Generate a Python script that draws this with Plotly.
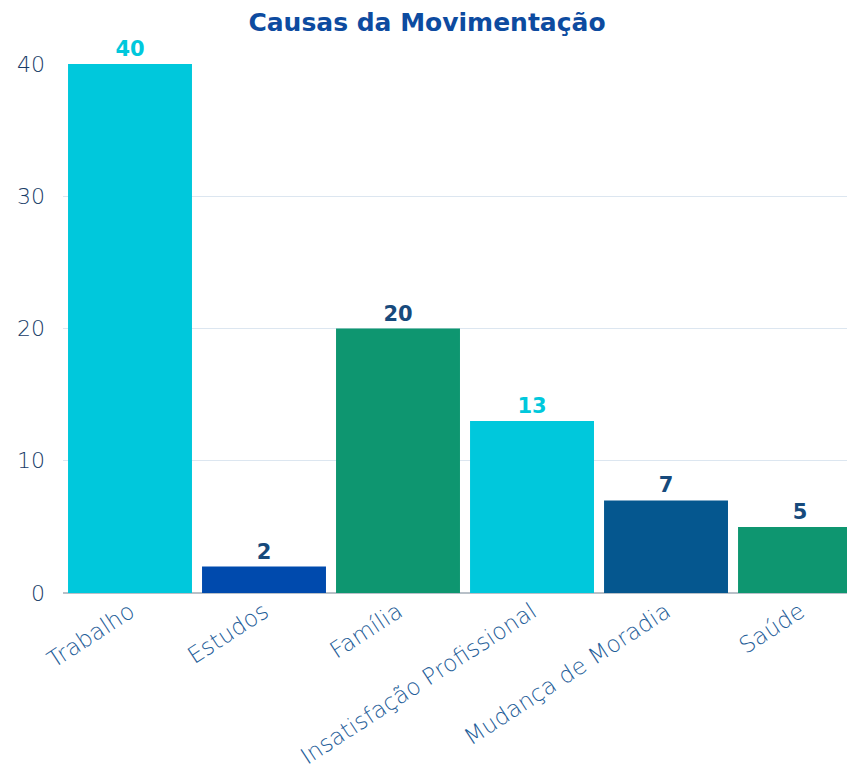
import plotly.graph_objects as go

categories = ["Trabalho", "Estudos", "Família", "Insatisfação Profissional", "Mudança de Moradia", "Saúde"]
values = [40, 2, 20, 13, 7, 5]
bar_colors = ["#00C8DC", "#004AAD", "#0E9670", "#00C8DC", "#05578F", "#0E9670"]
label_colors = ["#00C8DC", "#174A7C", "#174A7C", "#00C8DC", "#174A7C", "#174A7C"]
y_ticks = [0, 10, 20, 30, 40]

fig = go.Figure(go.Bar(
    x=categories,
    y=values,
    marker=dict(color=bar_colors, line=dict(width=0)),
    text=[str(v) for v in values],
    textposition="outside",
    textfont=dict(family="DejaVu Sans", size=21, color=label_colors, weight="bold"),
    cliponaxis=False,
))

fig.update_layout(
    width=855,
    height=771,
    margin=dict(l=55, r=0, t=56, b=186, autoexpand=False),
    paper_bgcolor="white",
    plot_bgcolor="white",
    bargap=0.075,
    showlegend=False,
    title=dict(
        text="<b>Causas da Movimentação</b>",
        x=419 / 855, xref="container", xanchor="center",
        y=1 - 14 / 771, yref="container", yanchor="middle",
        font=dict(family="DejaVu Sans", size=25, color="#0D4BA0"),
    ),
)

fig.update_xaxes(
    range=[-0.5, 5.47],
    tickangle=-33,
    tickfont=dict(family="DejaVu Sans", size=23, color="#1F5E99", weight=200),
    showgrid=False,
    showline=False,
    ticks="",
    automargin=False,
)
fig.update_yaxes(
    range=[0, 40],
    tickvals=y_ticks,
    tickfont=dict(family="DejaVu Sans", size=22, color="#183C68", weight=200),
    showgrid=True,
    gridcolor="#DCE6F0",
    gridwidth=1,
    zeroline=True,
    zerolinecolor="#B8C0C8",
    zerolinewidth=2,
    ticks="",
    ticklabelstandoff=17,
    automargin=False,
)

fig.write_html("out.html")
